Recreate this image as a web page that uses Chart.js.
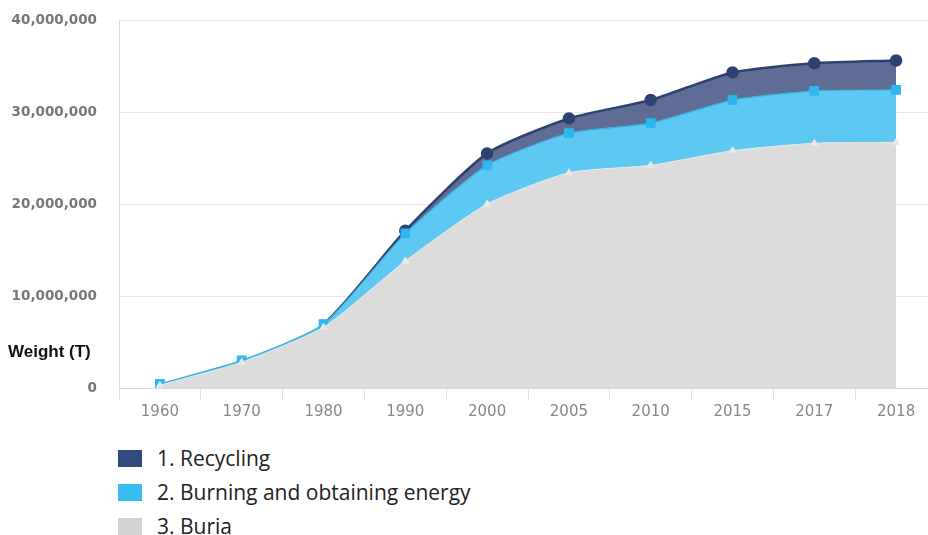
<!DOCTYPE html>
<html>
<head>
<meta charset="utf-8">
<script src="https://cdn.jsdelivr.net/npm/chart.js@4/dist/chart.umd.min.js"></script>
<style>
  html, body { margin: 0; padding: 0; background: #fff; overflow: hidden; }
  #wrap { position: relative; width: 941px; height: 424px; }
  .legend { position: absolute; left: 118px; top: 441px; font-family: "Open Sans", sans-serif; font-size: 21px; color: #222; }
  .legend div { height: 34px; display: flex; align-items: center; }
  .legend span.box { display: inline-block; width: 24px; height: 17px; margin-right: 15px; }
</style>
</head>
<body>
<div id="wrap"><canvas id="chart"></canvas></div>
<div class="legend" id="legend"></div>
<script>
const years = ['1960', '1970', '1980', '1990', '2000', '2005', '2010', '2015', '2017', '2018'];
const seriesNames = ['1. Recycling', '2. Burning and obtaining energy', '3. Buria'];
// tonnes, stacked: buria at the bottom, then burning, then recycling
const recycling = [0, 0, 0, 300000, 1300000, 1600000, 2500000, 3000000, 3000000, 3200000];
const burning = [150000, 200000, 350000, 3000000, 4200000, 4300000, 4600000, 5500000, 5700000, 5700000];
const buria = [300000, 2800000, 6600000, 13800000, 20000000, 23400000, 24200000, 25800000, 26600000, 26700000];
const yTicks = [0, 10000000, 20000000, 30000000, 40000000];

const legendColors = ['#324a7e', '#38bdf0', '#d3d3d3'];

const legend = document.getElementById('legend');
seriesNames.forEach((name, i) => {
  const row = document.createElement('div');
  row.innerHTML = '<span class="box" style="background:' + legendColors[i] + '"></span>' + name;
  legend.appendChild(row);
});

const weightLabel = {
  id: 'weightLabel',
  afterDraw(chart) {
    const ctx = chart.ctx;
    ctx.save();
    ctx.font = 'bold 17px "Liberation Sans", Arial, sans-serif';
    ctx.fillStyle = '#111';
    ctx.textBaseline = 'middle';
    ctx.fillText('Weight (T)', 8, 352);
    ctx.restore();
  }
};

new Chart(document.getElementById('chart'), {
  type: 'line',
  data: {
    labels: years,
    datasets: [
      {
        label: seriesNames[2],
        data: buria,
        fill: 'origin',
        backgroundColor: '#dcdcdc',
        borderColor: '#e6e6e6',
        borderWidth: 1,
        pointStyle: 'triangle',
        pointRadius: 4,
        pointBackgroundColor: '#e9e9e9',
        pointBorderColor: '#e9e9e9',
        tension: 0.2
      },
      {
        label: seriesNames[1],
        data: burning,
        fill: '-1',
        backgroundColor: '#5dc8f2',
        borderColor: '#3cb0d8',
        borderWidth: 1.2,
        pointStyle: 'rect',
        pointRadius: 6,
        pointBackgroundColor: '#2cb8ee',
        pointBorderColor: '#2cb8ee',
        tension: 0.2
      },
      {
        label: seriesNames[0],
        data: recycling,
        fill: '-1',
        backgroundColor: '#5f6d95',
        borderColor: '#2e4272',
        borderWidth: 2.5,
        pointStyle: 'circle',
        pointRadius: c => recycling[c.dataIndex] > 0 ? 5 : 0,
        pointBackgroundColor: '#2e4272',
        pointBorderColor: '#2e4272',
        segment: {
          borderColor: c => (recycling[c.p0DataIndex] === 0 && recycling[c.p1DataIndex] === 0) ? 'rgba(0,0,0,0)' : undefined
        },
        tension: 0.2
      }
    ]
  },
  options: {
    responsive: true,
    maintainAspectRatio: false,
    animation: false,
    layout: { autoPadding: false, padding: { top: 20, right: 4, left: 0, bottom: 0 } },
    plugins: {
      legend: { display: false },
      tooltip: { enabled: false }
    },
    scales: {
      x: {
        offset: true,
        grid: { offset: true, drawOnChartArea: false, drawTicks: true, tickLength: 12, color: '#dde1e8' },
        border: { color: '#d6dbe4' },
        ticks: { color: '#888', padding: 3, font: { family: 'DejaVu Sans', size: 15 } }
      },
      y: {
        stacked: true,
        min: 0,
        max: 40000000,
        afterFit(scale) {
          scale.width = 119;
          scale.paddingTop = 9;
          scale.paddingBottom = 9;
        },
        afterBuildTicks(scale) { scale.ticks = yTicks.map(v => ({ value: v })); },
        grid: { drawTicks: false, color: '#e8e8e8' },
        border: { color: '#dddddd' },
        ticks: {
          color: '#777',
          padding: 22,
          font: { family: 'DejaVu Sans', size: 13.5, weight: 'bold' },
          callback: v => v.toLocaleString('en-US')
        }
      }
    }
  },
  plugins: [weightLabel]
});
</script>
</body>
</html>
